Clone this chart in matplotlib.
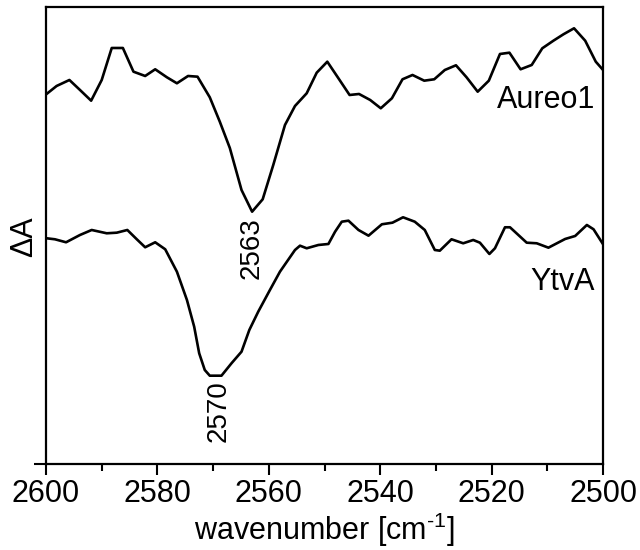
import matplotlib
matplotlib.use("Agg")
import matplotlib.pyplot as plt
from matplotlib.ticker import MultipleLocator

plt.rcParams['font.family'] = ['Liberation Sans', 'DejaVu Sans']
plt.rcParams['mathtext.fontset'] = 'custom'
plt.rcParams['mathtext.rm'] = 'Liberation Sans'
plt.rcParams['mathtext.it'] = 'Liberation Sans'

aureo_wn = [2599.9, 2598.1, 2595.8, 2593.9, 2591.9, 2590.0, 2588.2, 2586.2, 2584.3, 2582.2,
            2580.4, 2578.3, 2576.5, 2574.5, 2572.8, 2570.6, 2568.8, 2567.0, 2564.9, 2563.0,
            2561.1, 2559.2, 2557.1, 2555.3, 2553.2, 2551.4, 2549.5, 2547.5, 2545.5, 2543.8,
            2541.8, 2539.9, 2537.9, 2536.0, 2534.2, 2532.1, 2530.3, 2528.4, 2526.4, 2524.5,
            2522.5, 2520.5, 2518.5, 2516.8, 2514.8, 2512.8, 2510.9, 2508.9, 2507.1, 2505.2,
            2503.2, 2501.3, 2500.1]
aureo_dA = [3.70, 3.78, 3.84, 3.74, 3.633, 3.84, 4.16, 4.16, 3.923, 3.88,
            3.947, 3.867, 3.807, 3.88, 3.873, 3.667, 3.423, 3.16, 2.74, 2.523,
            2.647, 2.99, 3.39, 3.58, 3.707, 3.913, 4.023, 3.857, 3.69, 3.70,
            3.64, 3.557, 3.657, 3.847, 3.89, 3.833, 3.847, 3.94, 3.987, 3.867,
            3.723, 3.833, 4.10, 4.113, 3.947, 3.99, 4.157, 4.233, 4.297, 4.357,
            4.233, 4.023, 3.947]

ytva_wn = [2599.9, 2598.4, 2596.4, 2593.9, 2591.8, 2589.1, 2587.3, 2585.4, 2583.7, 2582.2,
           2580.4, 2578.6, 2576.5, 2574.7, 2573.4, 2572.5, 2571.5, 2570.6, 2568.5, 2566.7,
           2564.9, 2563.5, 2561.9, 2559.8, 2558.0, 2555.3, 2554.4, 2553.2, 2551.1, 2549.3,
           2548.1, 2546.9, 2545.7, 2543.9, 2542.1, 2539.7, 2537.8, 2535.9, 2533.8, 2532.0,
           2530.2, 2529.3, 2527.2, 2525.1, 2523.3, 2522.1, 2520.4, 2519.4, 2517.6, 2516.7,
           2513.7, 2511.9, 2509.8, 2506.8, 2505.0, 2502.9, 2501.7, 2500.1]
ytva_dA = [2.257, 2.247, 2.217, 2.29, 2.34, 2.307, 2.313, 2.34, 2.247, 2.167,
           2.217, 2.147, 1.923, 1.64, 1.373, 1.107, 0.94, 0.883, 0.883, 1.007,
           1.123, 1.34, 1.523, 1.74, 1.923, 2.14, 2.183, 2.157, 2.19, 2.20,
           2.323, 2.423, 2.433, 2.34, 2.283, 2.397, 2.413, 2.467, 2.423, 2.34,
           2.14, 2.133, 2.247, 2.207, 2.24, 2.213, 2.10, 2.157, 2.367, 2.367,
           2.213, 2.207, 2.163, 2.25, 2.28, 2.39, 2.347, 2.207]

x_ticks = [2600, 2580, 2560, 2540, 2520, 2500]

fig = plt.figure(figsize=(6.4, 5.5), dpi=100)
ax = fig.add_axes([0.0719, 0.1564, 0.8703, 0.8309])

ax.plot(aureo_wn, aureo_dA, color='black', lw=1.9, solid_joinstyle='round')
ax.plot(ytva_wn, ytva_dA, color='black', lw=1.9, solid_joinstyle='round')

ax.set_xlim(2600, 2500)
ax.set_ylim(0, 4.57)
ax.set_xticks(x_ticks)
ax.xaxis.set_minor_locator(MultipleLocator(10))
ax.set_yticks([0])
ax.set_yticklabels([])
ax.tick_params(axis='x', which='major', direction='out', length=8, width=1.5, labelsize=22, pad=3)
ax.tick_params(axis='x', which='minor', direction='out', length=5, width=1.5)
ax.tick_params(axis='y', which='major', direction='out', length=9, width=1.5)
for s in ax.spines.values():
    s.set_linewidth(1.6)

ax.set_xlabel(r'wavenumber [cm$^{\text{-1}}$]', fontsize=22, labelpad=1)
fig.text(24/640, 1 - 237/550, 'ΔA', rotation=90, ha='center', va='center', fontsize=22)

ax.text(2501.3, 3.56, 'Aureo1', ha='right', va='baseline', fontsize=22)
ax.text(2501.4, 1.74, 'YtvA', ha='right', va='baseline', fontsize=22)
ax.text(2563.0, 2.47, '2563', rotation=90, ha='center', va='top', fontsize=20)
ax.text(2569.1, 0.84, '2570', rotation=90, ha='center', va='top', fontsize=20)

fig.savefig('out.png', dpi=100)
